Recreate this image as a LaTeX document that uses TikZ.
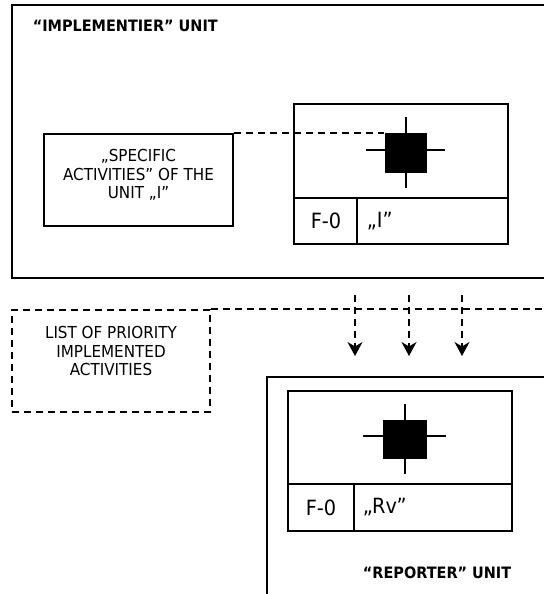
\documentclass[tikz,border=0pt]{standalone}
\usepackage{fontspec}
\setmainfont{DejaVu Sans}[FakeStretch=0.92]
\usetikzlibrary{arrows.meta}
\newcommand\txtsize{\fontsize{16.5pt}{18.7pt}\selectfont}
\newcommand\cellsize{\fontsize{21pt}{24pt}\selectfont}
\newcommand\titlesize{\fontsize{15.7pt}{18pt}\selectfont}
\tikzset{
  box/.style={draw, line width=1.6pt, inner sep=0pt},
  dashline/.style={line width=1.6pt, dash pattern=on 7pt off 5pt},
  lbl/.style={inner sep=0pt, font=\txtsize, align=center},
  blackmark/.style={fill=black, inner sep=0pt}
}
\begin{document}
\begin{tikzpicture}[x=1pt, y=-1pt, line width=1.6pt]
\useasboundingbox (0,0) rectangle (544,594);
% implementier unit
\draw (544,5) -- (12,5) -- (12,278) -- (544,278);
\node[lbl, font=\titlesize\bfseries, anchor=west] (titleI) at (32,26) {“IMPLEMENTIER” UNIT};
\node[box, minimum width=189pt, minimum height=92pt] (spec) at (138.5,180) {};
\node[lbl] (spectext) at (138.5,175) {„SPECIFIC\\ACTIVITIES” OF THE\\UNIT „I”};
% form F-0 "I"
\node[box, minimum width=214pt, minimum height=140pt] (formI) at (401,174) {};
\draw (294,198) -- (508,198) (357,198) -- (357,244);
\draw[line width=1.5pt] (406,117) -- (406,188) (366,150) -- (445,150);
\node[blackmark, minimum width=42pt, minimum height=40pt] (markI) at (406,153) {};
\node[lbl, font=\cellsize] (codeI) at (326,221) {F-0};
\node[lbl, font=\cellsize, anchor=west] (nameI) at (366,221) {„I”};
\draw[dashline] (spec.north east) -- (spec.north east -| markI.west);
% list of activities
\node[draw, dashline, minimum width=198pt, minimum height=102pt] (list) at (111,361) {};
\node[lbl] (listtext) at (111,351) {LIST OF PRIORITY\\IMPLEMENTED\\ACTIVITIES};
\coordinate (edge) at (544,0);
\coordinate (listend) at (list.north east -| edge);
\draw[dashline] (list.north east) -- (listend);
\foreach \x in {355,409,462} {
  \coordinate (from\x) at (\x,295);
  \coordinate (to\x) at (\x,356);
  \draw[dashline, -{Stealth[length=14pt, width=15pt, inset=4.5pt]}] (from\x) -- (to\x);
}
% reporter unit
\draw (544,377) -- (267,377) -- (267,594);
\node[box, minimum width=224pt, minimum height=140pt] (formR) at (400,461) {};
\draw (288,484) -- (512,484) (354,484) -- (354,531);
\draw[line width=1.5pt] (405,404) -- (405,474) (363,436) -- (446,436);
\node[blackmark, minimum width=44pt, minimum height=39pt] (markR) at (405,439.5) {};
\node[lbl, font=\cellsize] (codeR) at (321,507.5) {F-0};
\node[lbl, font=\cellsize, anchor=west] (nameR) at (362,507.5) {„Rv”};
\node[lbl, font=\titlesize\bfseries, anchor=east] (titleR) at (512,573) {“REPORTER” UNIT};
\end{tikzpicture}
\end{document}
